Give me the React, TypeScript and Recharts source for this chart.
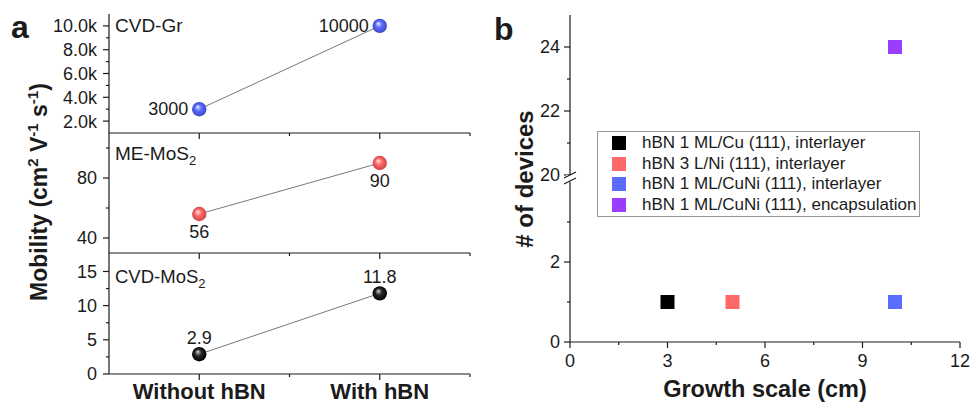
import React from "react";
import { LineChart, Line, XAxis, YAxis, ScatterChart, Scatter, Legend } from "recharts";

// panel a: mobility without / with hBN
const conditions = ["Without hBN", "With hBN"];
const conditionX = [1, 2];
const grMobility = [3000, 10000];
const meMos2Mobility = [56, 90];
const cvdMos2Mobility = [2.9, 11.8];

// panel b: number of devices vs growth scale
const hbnSources = [
  "hBN 1 ML/Cu (111), interlayer",
  "hBN 3 L/Ni (111), interlayer",
  "hBN 1 ML/CuNi (111), interlayer",
  "hBN 1 ML/CuNi (111), encapsulation",
];
const growthScale = [3, 5, 10, 10];
const deviceCount = [1, 1, 1, 24];

const FONT = "'Liberation Sans', Arial, Helvetica, sans-serif";
const INK = "#1b1b1b";
const sourceColors = ["#000000", "#ff6868", "#5b6dff", "#9b3dff"];

const toPoints = (vals: number[]) => conditionX.map((x, i) => ({ x, y: vals[i] }));

function Tick(props: any) {
  const { x, y, payload, side, majors, fmt, gap = 12, fontSize = 18, bold } = props;
  const v = payload.value;
  const major = majors.includes(v);
  const len = major ? 6 : 3;
  const label = major && fmt ? fmt(v) : null;
  if (side === "left") {
    return (
      <g>
        <line x1={x} x2={x - len} y1={y} y2={y} stroke={INK} strokeWidth={1.2} />
        {label !== null && (
          <text x={x - gap} y={y} dy="0.36em" textAnchor="end" fontSize={fontSize} fontFamily={FONT} fill={INK}>
            {label}
          </text>
        )}
      </g>
    );
  }
  return (
    <g>
      <line x1={x} x2={x} y1={y} y2={y + len} stroke={INK} strokeWidth={1.2} />
      {label !== null && (
        <text
          x={x}
          y={y + gap}
          textAnchor="middle"
          fontSize={fontSize}
          fontFamily={FONT}
          fontWeight={bold ? "bold" : "normal"}
          fill={INK}
        >
          {label}
        </text>
      )}
    </g>
  );
}

function Ball(props: any) {
  const { cx, cy, payload, grad, place } = props;
  if (cx == null || cy == null) return <g />;
  let tx = cx;
  let ty = cy;
  let anchor = "middle";
  if (place === "left") {
    tx = cx - 11;
    ty = cy + 6;
    anchor = "end";
  } else if (place === "below") {
    ty = cy + 24;
  } else {
    ty = cy - 10;
  }
  return (
    <g>
      <circle cx={cx} cy={cy} r={7.2} fill={`url(#${grad})`} />
      <text x={tx} y={ty} textAnchor={anchor} fontSize={18} fontFamily={FONT} fill={INK}>
        {String(payload.y)}
      </text>
    </g>
  );
}

function MobilityPlot(p: any) {
  const { top, height, marginTop, xAxisHeight, values, domain, ticks, majors, fmt, grad, place, showCategories } = p;
  return (
    <div style={{ position: "absolute", left: 0, top }}>
      <LineChart
        width={480}
        height={height}
        data={toPoints(values)}
        margin={{ top: marginTop, right: 10, bottom: 0, left: 49 }}
      >
        <XAxis
          dataKey="x"
          type="number"
          domain={[0.5, 2.5]}
          ticks={[1, 1.5, 2, 2.5]}
          interval={0}
          height={xAxisHeight}
          tickSize={0}
          tickMargin={0}
          tickLine={false}
          axisLine={{ stroke: INK, strokeWidth: 1.2 }}
          tick={(t: any) => (
            <Tick
              {...t}
              side="bottom"
              majors={[1, 2]}
              fmt={showCategories ? (v: number) => conditions[conditionX.indexOf(v)] : undefined}
              gap={25}
              fontSize={22}
              bold
            />
          )}
        />
        <YAxis
          dataKey="y"
          type="number"
          domain={domain}
          ticks={ticks}
          interval={0}
          width={60}
          tickSize={0}
          tickMargin={0}
          tickLine={false}
          axisLine={{ stroke: INK, strokeWidth: 1.2 }}
          tick={(t: any) => <Tick {...t} side="left" majors={majors} fmt={fmt} />}
        />
        <Line
          dataKey="y"
          type="linear"
          stroke="#555"
          strokeWidth={0.8}
          isAnimationActive={false}
          activeDot={false}
          dot={(d: any) => <Ball key={d.index} {...d} grad={grad} place={place} />}
        />
      </LineChart>
    </div>
  );
}

function SourceLegend() {
  return (
    <div
      style={{
        border: "1px solid #999",
        background: "#fff",
        padding: "1px 0",
        fontFamily: FONT,
        fontSize: 17,
        color: INK,
        boxSizing: "border-box",
        width: 323,
        whiteSpace: "nowrap",
      }}
    >
      {hbnSources.map((name, i) => (
        <div key={name} style={{ position: "relative", height: 20.6, lineHeight: "20.6px", paddingLeft: 44 }}>
          <span
            style={{
              position: "absolute",
              left: 14,
              top: 3,
              width: 14,
              height: 14,
              background: sourceColors[i],
            }}
          />
          {name}
        </div>
      ))}
    </div>
  );
}

const square = (s: any) => (
  <rect x={s.cx - 7} y={s.cy - 7} width={14} height={14} fill={s.fill} />
);

function GradientBall({ id, hi, base, dark }: { id: string; hi: string; base: string; dark: string }) {
  return (
    <radialGradient id={id} cx="0.5" cy="0.5" r="0.5" fx="0.38" fy="0.32">
      <stop offset="0" stopColor={hi} />
      <stop offset="0.45" stopColor={base} />
      <stop offset="1" stopColor={dark} />
    </radialGradient>
  );
}

export default function App() {
  const lowIdx = deviceCount.map((c, i) => (c < 20 ? i : -1)).filter((i) => i >= 0);
  const highIdx = deviceCount.map((c, i) => (c >= 20 ? i : -1)).filter((i) => i >= 0);
  const axisProps = {
    tickSize: 0,
    tickMargin: 0,
    tickLine: false,
    axisLine: { stroke: INK, strokeWidth: 1.2 },
    interval: 0 as const,
  };

  return (
    <div style={{ position: "absolute", left: 0, top: 0, width: 971, height: 405, background: "#fff", overflow: "hidden" }}>
      <MobilityPlot
        top={0}
        height={144}
        marginTop={14}
        xAxisHeight={11}
        values={grMobility}
        domain={[1000, 11000]}
        ticks={[2000, 3000, 4000, 5000, 6000, 7000, 8000, 9000, 10000]}
        majors={[2000, 4000, 6000, 8000, 10000]}
        fmt={(v: number) => (v / 1000).toFixed(1) + "k"}
        grad="ballBlue"
        place="left"
      />
      <MobilityPlot
        top={133}
        height={131}
        marginTop={0}
        xAxisHeight={11}
        values={meMos2Mobility}
        domain={[30, 110]}
        ticks={[40, 60, 80, 100]}
        majors={[40, 80]}
        fmt={(v: number) => String(v)}
        grad="ballRed"
        place="below"
      />
      <MobilityPlot
        top={253}
        height={152}
        marginTop={0}
        xAxisHeight={31}
        values={cvdMos2Mobility}
        domain={[0, 17.7]}
        ticks={[0, 2.5, 5, 7.5, 10, 12.5, 15]}
        majors={[0, 5, 10, 15]}
        fmt={(v: number) => String(v)}
        grad="ballBlack"
        place="above"
        showCategories
      />

      {/* panel b, upper segment of the broken axis */}
      <div style={{ position: "absolute", left: 480, top: 0 }}>
        <ScatterChart width={491} height={405} margin={{ top: 15, right: 11, bottom: 230, left: 50 }}>
          <XAxis dataKey="x" type="number" domain={[0, 12]} hide />
          <YAxis
            dataKey="y"
            type="number"
            domain={[20, 25]}
            ticks={[20, 21, 22, 23, 24]}
            width={40}
            {...axisProps}
            tick={(t: any) => <Tick {...t} side="left" majors={[20, 22, 24]} fmt={(v: number) => String(v)} gap={10} />}
          />
          {highIdx.map((i) => (
            <Scatter
              key={hbnSources[i]}
              name={hbnSources[i]}
              data={[{ x: growthScale[i], y: deviceCount[i] }]}
              fill={sourceColors[i]}
              shape={square}
              isAnimationActive={false}
            />
          ))}
        </ScatterChart>
      </div>

      {/* panel b, lower segment */}
      <div style={{ position: "absolute", left: 480, top: 0 }}>
        <ScatterChart width={491} height={405} margin={{ top: 182, right: 11, bottom: 0, left: 50 }}>
          <XAxis
            dataKey="x"
            type="number"
            domain={[0, 12]}
            ticks={[0, 1.5, 3, 4.5, 6, 7.5, 9, 10.5, 12]}
            height={63}
            {...axisProps}
            tick={(t: any) => <Tick {...t} side="bottom" majors={[0, 3, 6, 9, 12]} fmt={(v: number) => String(v)} gap={25} />}
          />
          <YAxis
            dataKey="y"
            type="number"
            domain={[0, 4]}
            ticks={[0, 1, 2, 3]}
            width={40}
            {...axisProps}
            tick={(t: any) => <Tick {...t} side="left" majors={[0, 2]} fmt={(v: number) => String(v)} gap={10} />}
          />
          {lowIdx.map((i) => (
            <Scatter
              key={hbnSources[i]}
              name={hbnSources[i]}
              data={[{ x: growthScale[i], y: deviceCount[i] }]}
              fill={sourceColors[i]}
              shape={square}
              isAnimationActive={false}
            />
          ))}
          <Legend
            layout="vertical"
            align="center"
            verticalAlign="middle"
            wrapperStyle={{ left: 117, top: 131, width: 323, height: 86 }}
            content={() => <SourceLegend />}
          />
        </ScatterChart>
      </div>

      <svg width={971} height={405} style={{ position: "absolute", left: 0, top: 0, pointerEvents: "none" }}>
        <defs>
          <GradientBall id="ballBlue" hi="#eef0ff" base="#5d6cff" dark="#3b47c8" />
          <GradientBall id="ballRed" hi="#ffeaea" base="#ff6b6b" dark="#c94545" />
          <GradientBall id="ballBlack" hi="#d8d8d8" base="#2a2a2a" dark="#000" />
        </defs>
        <g fontFamily={FONT} fill={INK}>
          <text x={11} y={38} fontSize={32} fontWeight="bold">a</text>
          <text x={494} y={40} fontSize={32} fontWeight="bold">b</text>

          <text x={115} y={32} fontSize={19}>CVD-Gr</text>
          <text x={115} y={160} fontSize={19}>
            ME-MoS<tspan dy={5} fontSize={13}>2</tspan>
          </text>
          <text x={115} y={283} fontSize={18.5}>
            CVD-MoS<tspan dy={5} fontSize={13}>2</tspan>
          </text>

          <text transform="translate(47,192) rotate(-90)" textAnchor="middle" fontSize={23} fontWeight="bold">
            Mobility (cm<tspan dy={-9} fontSize={15}>2</tspan>
            <tspan dy={9}> V</tspan>
            <tspan dy={-9} fontSize={15}>-1</tspan>
            <tspan dy={9}> s</tspan>
            <tspan dy={-9} fontSize={15}>-1</tspan>
            <tspan dy={9}>)</tspan>
          </text>

          <text transform="translate(533,179) rotate(-90)" textAnchor="middle" fontSize={24} fontWeight="bold">
            # of devices
          </text>
          <text x={765} y={397} textAnchor="middle" fontSize={23.5} fontWeight="bold">
            Growth scale (cm)
          </text>
        </g>
        {/* axis break marks */}
        <rect x={566} y={175} width={8} height={7} fill="#fff" />
        <line x1={564} y1={178} x2={576} y2={172} stroke={INK} strokeWidth={1.2} />
        <line x1={564} y1={184} x2={576} y2={178} stroke={INK} strokeWidth={1.2} />
      </svg>
    </div>
  );
}
